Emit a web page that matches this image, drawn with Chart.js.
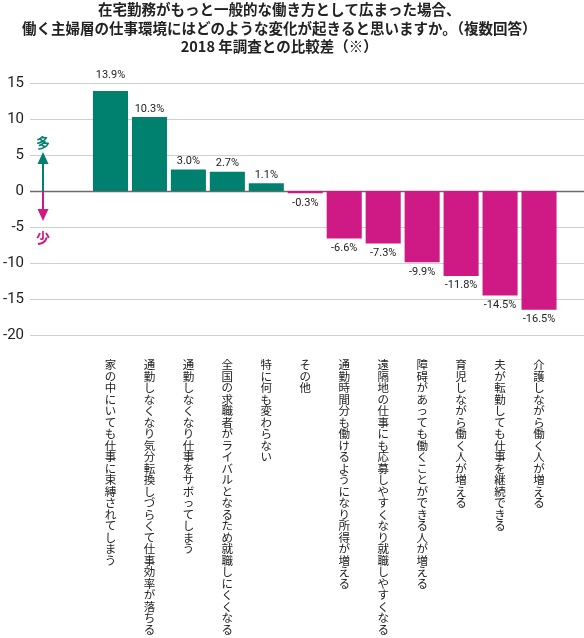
<!DOCTYPE html>
<html lang="ja">
<head>
<meta charset="utf-8">
<script src="https://cdn.jsdelivr.net/npm/chart.js@4.4.1/dist/chart.umd.min.js"></script>
<style>
    html, body { margin: 0; padding: 0; background: #fff; }
    #wrap { position: relative; width: 584px; height: 638px; }
</style>
</head>
<body>
<div id="wrap"><canvas id="chart"></canvas></div>
<script>
const titleLines = [
    '在宅勤務がもっと一般的な働き方として広まった場合、',
    '働く主婦層の仕事環境にはどのような変化が起きると思いますか。（複数回答）',
    '2018 年調査との比較差（※）',
];

const categories = [
    '家の中にいても仕事に束縛されてしまう',
    '通勤しなくなり気分転換しづらくて仕事効率が落ちる',
    '通勤しなくなり仕事をサボってしまう',
    '全国の求職者がライバルとなるため就職しにくくなる',
    '特に何も変わらない',
    'その他',
    '通勤時間分も働けるようになり所得が増える',
    '遠隔地の仕事にも応募しやすくなり就職しやすくなる',
    '障碍があっても働くことができる人が増える',
    '育児しながら働く人が増える',
    '夫が転勤しても仕事を継続できる',
    '介護しながら働く人が増える',
];

const diffValues = [13.9, 10.3, 3.0, 2.7, 1.1, -0.3, -6.6, -7.3, -9.9, -11.8, -14.5, -16.5];

const yTicks = [15, 10, 5, 0, -5, -10, -15, -20];

const TEAL = '#00806f';
const MAGENTA = '#cf1a85';
const NUM_FONT = "'Liberation Sans Narrow', 'Roboto', sans-serif";
const JP_FONT = "'Noto Sans CJK JP', sans-serif";

// grid lines run past the plot area on both sides, so they are drawn here
const gridPlugin = {
    id: 'wideGrid',
    beforeDatasetsDraw(chart) {
        const ctx = chart.ctx;
        const y = chart.scales.y;
        ctx.save();
        for (const v of yTicks) {
            const py = Math.round(y.getPixelForValue(v)) + 0.5;
            ctx.beginPath();
            ctx.strokeStyle = v === 0 ? '#6b6b6b' : '#cfcfcf';
            ctx.lineWidth = v === 0 ? 1.6 : 1.2;
            ctx.moveTo(30, py);
            ctx.lineTo(chart.width, py);
            ctx.stroke();
        }
        ctx.restore();
    },
};

const valueLabelPlugin = {
    id: 'valueLabels',
    afterDatasetsDraw(chart) {
        const ctx = chart.ctx;
        const meta = chart.getDatasetMeta(0);
        const top = chart.chartArea.top;
        ctx.save();
        ctx.font = `11px ${NUM_FONT}`;
        ctx.fillStyle = '#222';
        ctx.textAlign = 'center';
        ctx.textBaseline = 'middle';
        meta.data.forEach((bar, i) => {
            const v = diffValues[i];
            let ty;
            if (v >= 0) {
                ty = bar.y - 8;
                if (ty < top + 6) ty = top - 8;
            } else {
                ty = Math.max(bar.y, bar.base + 3) + 9.5;
            }
            ctx.fillText(v.toFixed(1) + '%', bar.x, ty);
        });
        ctx.restore();
    },
};

// 多 / 少 arrows beside the zero line
const arrowPlugin = {
    id: 'moreLess',
    afterDraw(chart) {
        const ctx = chart.ctx;
        const zero = chart.scales.y.getPixelForValue(0);
        const x = 43;
        ctx.save();
        ctx.lineWidth = 2;

        ctx.strokeStyle = TEAL;
        ctx.fillStyle = TEAL;
        ctx.beginPath();
        ctx.moveTo(x, zero);
        ctx.lineTo(x, zero - 28);
        ctx.stroke();
        ctx.beginPath();
        ctx.moveTo(x, zero - 39);
        ctx.lineTo(x - 5.5, zero - 27);
        ctx.lineTo(x + 5.5, zero - 27);
        ctx.closePath();
        ctx.fill();

        ctx.strokeStyle = MAGENTA;
        ctx.fillStyle = MAGENTA;
        ctx.beginPath();
        ctx.moveTo(x, zero);
        ctx.lineTo(x, zero + 19);
        ctx.stroke();
        ctx.beginPath();
        ctx.moveTo(x, zero + 30);
        ctx.lineTo(x - 5.5, zero + 18);
        ctx.lineTo(x + 5.5, zero + 18);
        ctx.closePath();
        ctx.fill();

        ctx.font = `bold 14px ${JP_FONT}`;
        ctx.textAlign = 'center';
        ctx.textBaseline = 'middle';
        ctx.fillStyle = TEAL;
        ctx.fillText('多', x, zero - 48);
        ctx.fillStyle = MAGENTA;
        ctx.fillText('少', x, zero + 47);
        ctx.restore();
    },
};

const ctx = document.getElementById('chart').getContext('2d');
new Chart(ctx, {
    type: 'bar',
    data: {
        labels: categories,
        datasets: [{
            data: diffValues,
            backgroundColor: diffValues.map((v) => (v >= 0 ? TEAL : MAGENTA)),
            borderWidth: 0,
            categoryPercentage: 1.0,
            barPercentage: 0.9,
        }],
    },
    options: {
        responsive: true,
        maintainAspectRatio: false,
        animation: false,
        layout: { padding: { left: 0, right: 25.5, top: 0, bottom: 0 } },
        plugins: {
            legend: { display: false },
            tooltip: { enabled: false },
            title: {
                display: true,
                text: titleLines,
                color: '#222',
                font: { family: JP_FONT, size: 14.5, weight: 'bold', lineHeight: 1.29 },
                padding: { top: 0, bottom: 27 },
            },
        },
        scales: {
            x: {
                grid: { display: false },
                border: { display: false },
                ticks: {
                    autoSkip: false,
                    maxRotation: 0,
                    minRotation: 0,
                    padding: 16,
                    color: '#222',
                    font: { family: JP_FONT, size: 11.5, lineHeight: 1.0 },
                    // one character per line gives upright vertical text
                    callback(value) {
                        return Array.from(categories[value]);
                    },
                },
                afterFit(scale) { scale.height = 303; },
            },
            y: {
                min: -20,
                max: 15,
                grid: { display: false, drawTicks: false },
                border: { display: false },
                ticks: {
                    stepSize: 5,
                    padding: 67,
                    color: '#222',
                    font: { family: NUM_FONT, size: 15 },
                },
                afterFit(scale) { scale.width = 91; },
            },
        },
    },
    plugins: [gridPlugin, valueLabelPlugin, arrowPlugin],
});
</script>
</body>
</html>
